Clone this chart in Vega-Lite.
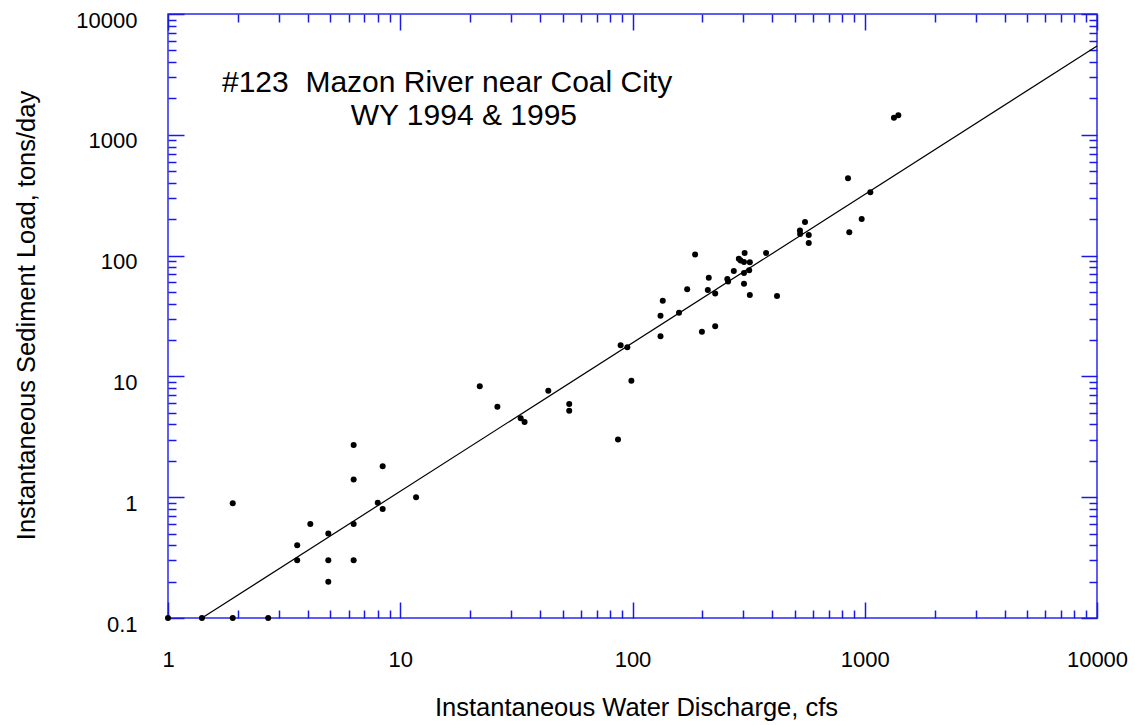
{
  "$schema": "https://vega.github.io/schema/vega-lite/v6.json",
  "width": 929,
  "height": 604,
  "autosize": {"type": "none"},
  "padding": {"left": 168, "top": 14, "right": 38, "bottom": 107},
  "background": "white",
  "config": {
    "view": {"stroke": "#2a2aee", "strokeWidth": 1.5},
    "font": "Liberation Sans",
    "axis": {
      "domain": false,
      "grid": false,
      "tickColor": "#1a1ae6",
      "tickWidth": 1.5,
      "labelFont": "Liberation Sans",
      "labelColor": "black",
      "labelFontSize": 22,
      "titleFont": "Liberation Sans",
      "titleFontSize": 25.5,
      "titleFontWeight": "normal",
      "titleColor": "black"
    }
  },
  "datasets": {
    "obs": [
      {"q": 1, "load": 0.1}, {"q": 1.4, "load": 0.1}, {"q": 1.9, "load": 0.1}, {"q": 2.7, "load": 0.1},
      {"q": 1.9, "load": 0.89}, {"q": 3.6, "load": 0.4}, {"q": 3.6, "load": 0.3}, {"q": 4.1, "load": 0.6},
      {"q": 4.9, "load": 0.5}, {"q": 4.9, "load": 0.3}, {"q": 4.9, "load": 0.2}, {"q": 6.3, "load": 2.7},
      {"q": 6.3, "load": 1.4}, {"q": 6.3, "load": 0.6}, {"q": 6.3, "load": 0.3}, {"q": 8.4, "load": 1.8},
      {"q": 8.0, "load": 0.9}, {"q": 8.4, "load": 0.8}, {"q": 11.7, "load": 1.0}, {"q": 22, "load": 8.3},
      {"q": 26.2, "load": 5.6}, {"q": 33, "load": 4.5}, {"q": 34.3, "load": 4.2}, {"q": 43.4, "load": 7.6},
      {"q": 53.4, "load": 5.9}, {"q": 53.4, "load": 5.2}, {"q": 86.6, "load": 3.0}, {"q": 88.9, "load": 18.1},
      {"q": 95, "load": 17.4}, {"q": 98.9, "load": 9.2}, {"q": 132, "load": 21.5}, {"q": 132, "load": 31.8},
      {"q": 135, "load": 42.3}, {"q": 158.6, "load": 33.7}, {"q": 172, "load": 52.6}, {"q": 186, "load": 102},
      {"q": 199, "load": 23.4}, {"q": 213, "load": 65.5}, {"q": 211, "load": 51.9}, {"q": 227, "load": 48.5},
      {"q": 227, "load": 26.0}, {"q": 256, "load": 64}, {"q": 258, "load": 61}, {"q": 273, "load": 74.6},
      {"q": 287, "load": 94}, {"q": 292, "load": 91}, {"q": 304, "load": 105}, {"q": 302, "load": 88.5},
      {"q": 320, "load": 88}, {"q": 302, "load": 71.8}, {"q": 318, "load": 75.6}, {"q": 302, "load": 58.5},
      {"q": 320, "load": 47.2}, {"q": 376, "load": 105}, {"q": 419, "load": 46.3}, {"q": 526, "load": 161},
      {"q": 527, "load": 151}, {"q": 553, "load": 190}, {"q": 574, "load": 148}, {"q": 574, "load": 127},
      {"q": 847, "load": 436}, {"q": 858, "load": 156}, {"q": 970, "load": 201}, {"q": 1057, "load": 334},
      {"q": 1336, "load": 1385}, {"q": 1395, "load": 1450}
    ],
    "fit": [
      {"q": 1.4, "load": 0.1},
      {"q": 10000, "load": 5430}
    ],
    "notes": [
      {"line": 1, "text": "#123\u00a0 Mazon River near Coal City"},
      {"line": 2, "text": "WY 1994 & 1995"}
    ]
  },
  "layer": [
    {
      "data": {"name": "fit"},
      "mark": {"type": "line", "color": "black", "strokeWidth": 1.2},
      "encoding": {
        "x": {
          "field": "q", "type": "quantitative",
          "scale": {"type": "log", "domain": [1, 10000], "nice": false, "zero": false},
          "axis": {
            "orient": "bottom",
            "title": "Instantaneous Water Discharge, cfs",
            "titleX": 468,
            "titleY": 97,
            "titleBaseline": "alphabetic",
            "values": [1,2,3,4,5,6,7,8,9,10,20,30,40,50,60,70,80,90,100,200,300,400,500,600,700,800,900,1000,2000,3000,4000,5000,6000,7000,8000,9000,10000],
            "tickSize": {"condition": {"test": "abs(log(datum.value)/LN10 - round(log(datum.value)/LN10)) < 0.001", "value": -16}, "value": -8},
            "labelExpr": "abs(log(datum.value)/LN10 - round(log(datum.value)/LN10)) < 0.001 ? '' + datum.value : ''",
            "labelBaseline": "alphabetic",
            "labelPadding": 64,
            "labelFlush": false,
            "labelOverlap": false
          }
        },
        "y": {
          "field": "load", "type": "quantitative",
          "scale": {"type": "log", "domain": [0.1, 10000], "nice": false, "zero": false},
          "axis": {
            "orient": "left",
            "title": "Instantaneous Sediment Load, tons/day",
            "titleX": -142,
            "titleY": 301,
            "titleAngle": -90,
            "titleBaseline": "middle",
            "values": [0.1,0.2,0.3,0.4,0.5,0.6,0.7,0.8,0.9,1,2,3,4,5,6,7,8,9,10,20,30,40,50,60,70,80,90,100,200,300,400,500,600,700,800,900,1000,2000,3000,4000,5000,6000,7000,8000,9000,10000],
            "tickSize": {"condition": {"test": "abs(log(datum.value)/LN10 - round(log(datum.value)/LN10)) < 0.001", "value": -16}, "value": -8},
            "labelExpr": "abs(log(datum.value)/LN10 - round(log(datum.value)/LN10)) < 0.001 ? '' + datum.value : ''",
            "labelBaseline": "middle",
            "labelOffset": 6,
            "labelPadding": 47,
            "labelFlush": false,
            "labelOverlap": false
          }
        }
      }
    },
    {
      "data": {"name": "obs"},
      "mark": {"type": "circle", "color": "black", "opacity": 1, "size": 36},
      "encoding": {
        "x": {
          "field": "q", "type": "quantitative",
          "axis": {
            "orient": "top",
            "title": null,
            "labels": false,
            "values": [1,2,3,4,5,6,7,8,9,10,20,30,40,50,60,70,80,90,100,200,300,400,500,600,700,800,900,1000,2000,3000,4000,5000,6000,7000,8000,9000,10000],
            "tickSize": {"condition": {"test": "abs(log(datum.value)/LN10 - round(log(datum.value)/LN10)) < 0.001", "value": -16}, "value": -8}
          }
        },
        "y": {
          "field": "load", "type": "quantitative",
          "axis": {
            "orient": "right",
            "title": null,
            "labels": false,
            "values": [0.1,0.2,0.3,0.4,0.5,0.6,0.7,0.8,0.9,1,2,3,4,5,6,7,8,9,10,20,30,40,50,60,70,80,90,100,200,300,400,500,600,700,800,900,1000,2000,3000,4000,5000,6000,7000,8000,9000,10000],
            "tickSize": {"condition": {"test": "abs(log(datum.value)/LN10 - round(log(datum.value)/LN10)) < 0.001", "value": -16}, "value": -8}
          }
        }
      }
    },
    {
      "data": {"name": "notes"},
      "transform": [{"filter": "datum.line == 1"}],
      "mark": {"type": "text", "align": "left", "baseline": "alphabetic", "fontSize": 30, "font": "Liberation Sans", "color": "black"},
      "encoding": {
        "x": {"datum": 1.708, "type": "quantitative", "axis": null},
        "y": {"datum": 2262, "type": "quantitative", "axis": null},
        "text": {"field": "text"}
      }
    },
    {
      "data": {"name": "notes"},
      "transform": [{"filter": "datum.line == 2"}],
      "mark": {"type": "text", "align": "left", "baseline": "alphabetic", "fontSize": 30, "font": "Liberation Sans", "color": "black"},
      "encoding": {
        "x": {"datum": 6.12, "type": "quantitative", "axis": null},
        "y": {"datum": 1205, "type": "quantitative", "axis": null},
        "text": {"field": "text"}
      }
    }
  ],
  "resolve": {"axis": {"x": "independent", "y": "independent"}}
}
